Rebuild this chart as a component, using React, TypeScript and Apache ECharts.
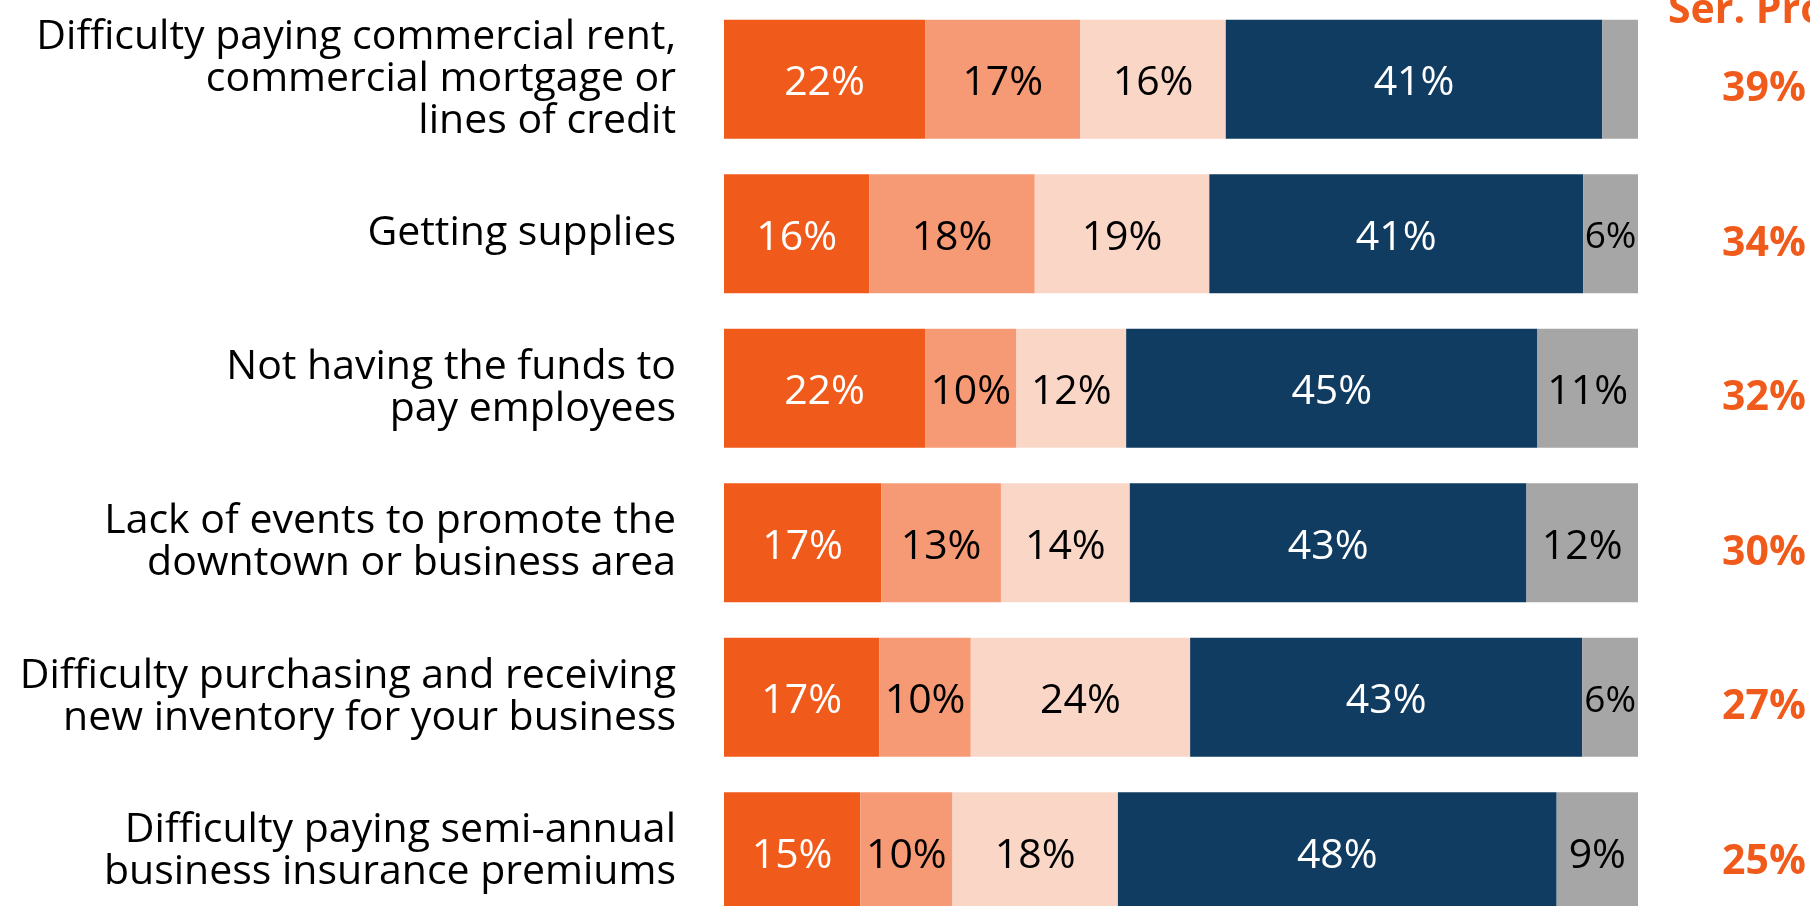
import React, { useEffect, useRef } from "react";
import * as echarts from "echarts";

const categories = [
  "Difficulty paying commercial rent,\ncommercial mortgage or\nlines of credit",
  "Getting supplies",
  "Not having the funds to\npay employees",
  "Lack of events to promote the\ndowntown or business area",
  "Difficulty purchasing and receiving\nnew inventory for your business",
  "Difficulty paying semi-annual\nbusiness insurance premiums",
];

const seriesNames = ["Very serious", "Serious", "Somewhat serious", "Not a problem", "Don't know"];
const verySerious = [22.0, 15.9, 22.0, 17.2, 17.0, 14.9];
const serious = [17.0, 18.1, 10.0, 13.1, 10.0, 10.1];
const somewhatSerious = [15.9, 19.1, 12.0, 14.1, 24.0, 18.1];
const notAProblem = [41.2, 40.9, 45.0, 43.4, 42.9, 48.0];
const dontKnow = [3.9, 6.0, 11.0, 12.2, 6.1, 8.9];
const serProb = ["39%", "34%", "32%", "30%", "27%", "25%"];
const headerText = "Ser. Prob.";

const colors = ["#F05A1A", "#F69A76", "#FAD6C7", "#113C61", "#A6A6A6"];
const labelColors = ["#FFFFFF", "#000000", "#000000", "#FFFFFF", "#000000"];
const FONT = "'Open Sans', sans-serif";

export default function App() {
  const ref = useRef<HTMLDivElement>(null);
  useEffect(() => {
    document.body.style.margin = "0";
    const chart = echarts.init(ref.current!, null, { renderer: "svg" });
    const allSeries = [verySerious, serious, somewhatSerious, notAProblem, dontKnow];
    chart.setOption({
      animation: false,
      textStyle: { fontFamily: FONT },
      grid: { left: 724, width: 914, top: 2, height: 927 },
      xAxis: { type: "value", min: 0, max: 100, show: false },
      yAxis: [
        {
          type: "category",
          data: categories,
          inverse: true,
          axisLine: { show: false },
          axisTick: { show: false },
          axisLabel: {
            margin: 48,
            align: "right",
            formatter: (v: string) =>
              v
                .split("\n")
                .map((l) => `{a|${l}}`)
                .join("\n") + "\n{s| }",
            rich: {
              a: {
                fontSize: 41,
                lineHeight: 42,
                color: "#000000",
                fontFamily: FONT,
              },
              s: { fontSize: 1, lineHeight: 9 },
            },
          },
        },
        {
          type: "category",
          data: serProb,
          inverse: true,
          position: "right",
          axisLine: { show: false },
          axisTick: { show: false },
          axisLabel: {
            margin: 84,
            align: "left",
            formatter: (v: string) => `{a|${v}}`,
            rich: {
              a: {
                fontSize: 41,
                fontWeight: "bold",
                color: "#F05A1A",
                fontFamily: FONT,
                padding: [12, 0, 0, 0],
              },
            },
          },
        },
      ],
      graphic: [
        {
          type: "text",
          left: 1668,
          top: -14,
          style: {
            text: headerText,
            font: `bold 41px ${FONT}`,
            fill: "#F05A1A",
          },
        },
      ],
      series: allSeries.map((vals, i) => ({
        name: seriesNames[i],
        type: "bar",
        stack: "total",
        barWidth: 119,
        itemStyle: { color: colors[i] },
        label: {
          show: true,
          position: "inside",
          fontSize: 41,
          fontFamily: FONT,
          color: labelColors[i],
          formatter: (p: any) => (p.value >= 5 ? Math.round(p.value) + "%" : ""),
        },
        data: vals.map((v) =>
          v < 8 ? { value: v, label: { fontSize: 37 } } : v
        ),
      })),
    });
    return () => chart.dispose();
  }, []);
  return (
    <div style={{ position: "fixed", left: 0, top: 0, width: 1810, height: 906, overflow: "hidden" }}>
      <div ref={ref} style={{ width: 1810, height: 940 }} />
    </div>
  );
}
